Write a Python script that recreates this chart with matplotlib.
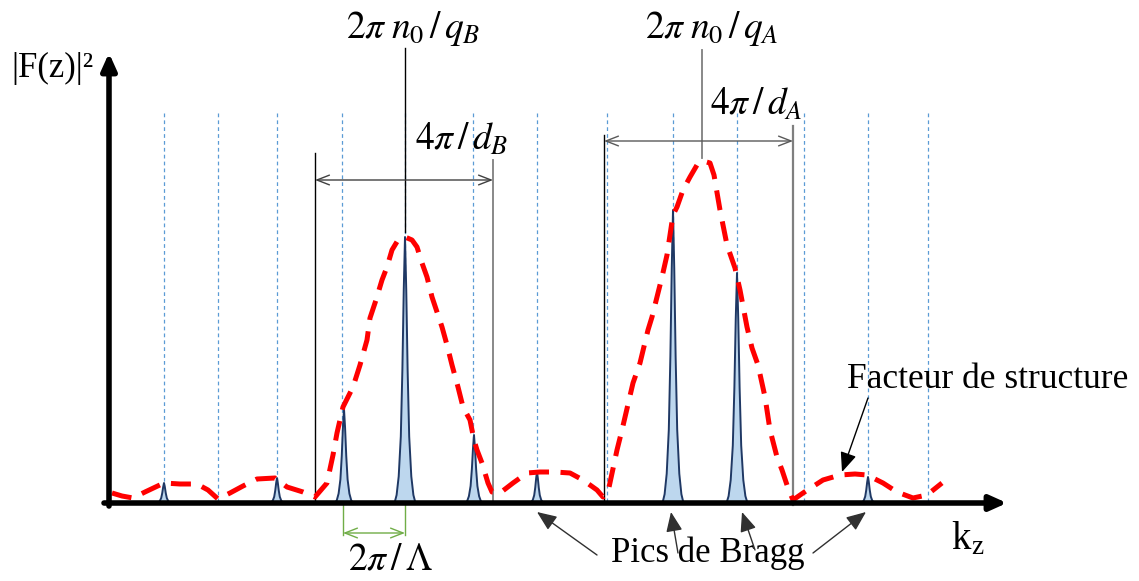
import matplotlib
matplotlib.use("Agg")
import matplotlib.pyplot as plt
import numpy as np

plt.rcParams['mathtext.fontset'] = 'stix'
plt.rcParams['font.family'] = ['Liberation Serif', 'DejaVu Serif']

# ---- data (x = k_z position, y = intensity above baseline) ----
peak_k = [164, 277, 344, 405, 474, 537, 673, 737, 868]
peak_h = [20, 25, 94, 266, 68, 31, 293, 230, 26]
peak_w = [0.7, 0.7, 0.9, 1.05, 0.85, 0.7, 1.05, 1.05, 0.7]

# peak profile (offset in px for a full-size peak, fraction of height)
prof_dx = [-10, -8, -6, -4, -2.5, -1.2, 0, 1.2, 2.5, 4, 6, 8, 10]
prof_f = [0, 0.03, 0.1, 0.25, 0.5, 0.8, 1, 0.8, 0.5, 0.25, 0.1, 0.03, 0]

env_k = [112, 122, 133, 145, 164, 180, 197, 208, 218, 230, 243, 257, 275, 287, 303,
         315, 327, 333, 337, 343, 353, 360, 367, 370, 376, 382, 387, 392, 398, 405,
         412, 417, 422, 427, 432, 437, 442, 447, 452, 458, 463, 470, 474, 477, 482,
         488, 492, 500, 513, 527, 540, 555, 570, 583, 597, 603, 608, 617, 622, 633,
         640, 648, 652, 662, 667, 673, 677, 683, 690, 697, 703, 710, 714, 720, 727,
         735, 740, 747, 752, 758, 765, 770, 777, 782, 788, 793, 803, 823, 840, 855,
         867, 883, 897, 913, 927, 942]
env_F = [10, 7, 5, 11, 20, 19, 19, 13, 4, 10, 17, 24, 25, 16, 11,
         6, 20, 48, 70, 96, 116, 138, 163, 185, 203, 223, 236, 253, 263, 266,
         263, 256, 240, 226, 206, 191, 176, 158, 138, 116, 96, 83, 63, 53, 40,
         20, 11, 10, 20, 30, 31, 31, 30, 23, 13, 6, 11, 53, 73, 120,
         140, 173, 186, 226, 248, 288, 296, 313, 326, 338, 342, 340, 328, 293, 258,
         235, 213, 176, 155, 138, 106, 73, 46, 33, 15, 3, 10, 23, 28, 29,
         28, 20, 11, 5, 8, 20]

grid_k = [164, 218, 277, 342, 405, 473, 537, 607, 673, 737, 804, 868, 928]

BASE = 503  # pixel row of the k axis
W, H = 1139, 581

fig = plt.figure(figsize=(W / 100, H / 100), dpi=100)
ax = fig.add_axes([0, 0, 1, 1])
ax.set_xlim(0, W)
ax.set_ylim(BASE - H, BASE)
ax.axis('off')

def py(p):
    return BASE - p

# dotted guide lines
for k in grid_k:
    ax.plot([k, k], [py(113), 0], color='#5B9BD5', lw=0.9, ls=(0, (3, 2.5)), zorder=1)

# Bragg peaks
for k, h, w in zip(peak_k, peak_h, peak_w):
    xs = [k + d * w for d in prof_dx]
    ys = [h * f for f in prof_f]
    ax.fill(xs, ys, facecolor='#BDD7EE', edgecolor='none', zorder=3)
    ax.plot(xs, ys, color='#1F3864', lw=1.4, zorder=4)

# structure factor envelope
ax.plot(env_k, env_F, color='#FF0000', lw=3.6, dashes=(4, 2.3), dash_capstyle='butt', zorder=5)

# axes with arrows
ax.annotate('', xy=(1007, 0), xytext=(104, 0),
            arrowprops=dict(arrowstyle='-|>,head_length=1.0,head_width=0.45', lw=4, color='black',
                            shrinkA=0, shrinkB=0), zorder=6)
ax.annotate('', xy=(109, py(53)), xytext=(109, -3),
            arrowprops=dict(arrowstyle='-|>,head_length=1.0,head_width=0.45', lw=4, color='black',
                            shrinkA=0, shrinkB=0), zorder=6)

# vertical reference lines
ax.plot([405, 405], [py(48), py(232)], color='black', lw=1.0, zorder=2)
ax.plot([702, 702], [py(50), py(158)], color='#7F7F7F', lw=1.3, zorder=2)
ax.plot([315, 315], [py(153), 0], color='black', lw=1.0, zorder=2)
ax.plot([493, 493], [py(160), 0], color='#7F7F7F', lw=1.3, zorder=2)
ax.plot([604, 604], [py(135), 0], color='black', lw=1.0, zorder=2)
ax.plot([793, 793], [py(126), -2], color='#7F7F7F', lw=1.6, zorder=2)

def dbl(x0, x1, y, color):
    ax.annotate('', xy=(x1, y), xytext=(x0, y),
                arrowprops=dict(arrowstyle='<->,head_length=0.9,head_width=0.35', lw=1.0,
                                color=color, shrinkA=0, shrinkB=0), zorder=2)

dbl(315, 493, py(180), '#404040')
dbl(604, 793, py(141), '#595959')

# green 2pi/Lambda marker
ax.plot([343, 343], [py(505), py(535)], color='#70AD47', lw=1.0)
ax.plot([405, 405], [py(505), py(535)], color='#70AD47', lw=1.0)
dbl(343, 405, py(533), '#70AD47')

# labels
fs = 27
ax.text(413, py(28), r'$2\pi\;n_0\,/\,q_B$', fontsize=fs, ha='center', va='center')
ax.text(712, py(28), r'$2\pi\;n_0\,/\,q_A$', fontsize=fs, ha='center', va='center')
ax.text(462, py(140), r'$4\pi\,/\,d_B$', fontsize=fs, ha='center', va='center')
ax.text(756, py(105), r'$4\pi\,/\,d_A$', fontsize=fs, ha='center', va='center')
ax.text(390, py(560), r'$2\pi\,/\,\Lambda$', fontsize=fs, ha='center', va='center')
ax.text(988, py(380), 'Facteur de structure', fontsize=25.5, ha='center', va='center')
ax.text(708, py(553), 'Pics de Bragg', fontsize=25, ha='center', va='center')
ax.text(968, py(540), r'k$_\mathregular{z}$', fontsize=28, ha='center', va='center')
ax.text(52, py(68), r'|F(z)|²', fontsize=25, ha='center', va='center')

def arr(x0, y0, x1, y1, lc):
    ax.annotate('', xy=(x1, py(y1)), xytext=(x0, py(y0)),
                arrowprops=dict(arrowstyle='-|>,head_length=1.2,head_width=0.5', lw=1.0,
                                color=lc, shrinkA=0, shrinkB=0), zorder=7)

arr(868, 398, 842, 472, 'black')
arr(597, 555, 537, 512, '#303030')
arr(678, 553, 671, 512, '#303030')
arr(755, 550, 742, 512, '#303030')
arr(813, 553, 866, 512, '#303030')

fig.savefig('out.png', dpi=100)
